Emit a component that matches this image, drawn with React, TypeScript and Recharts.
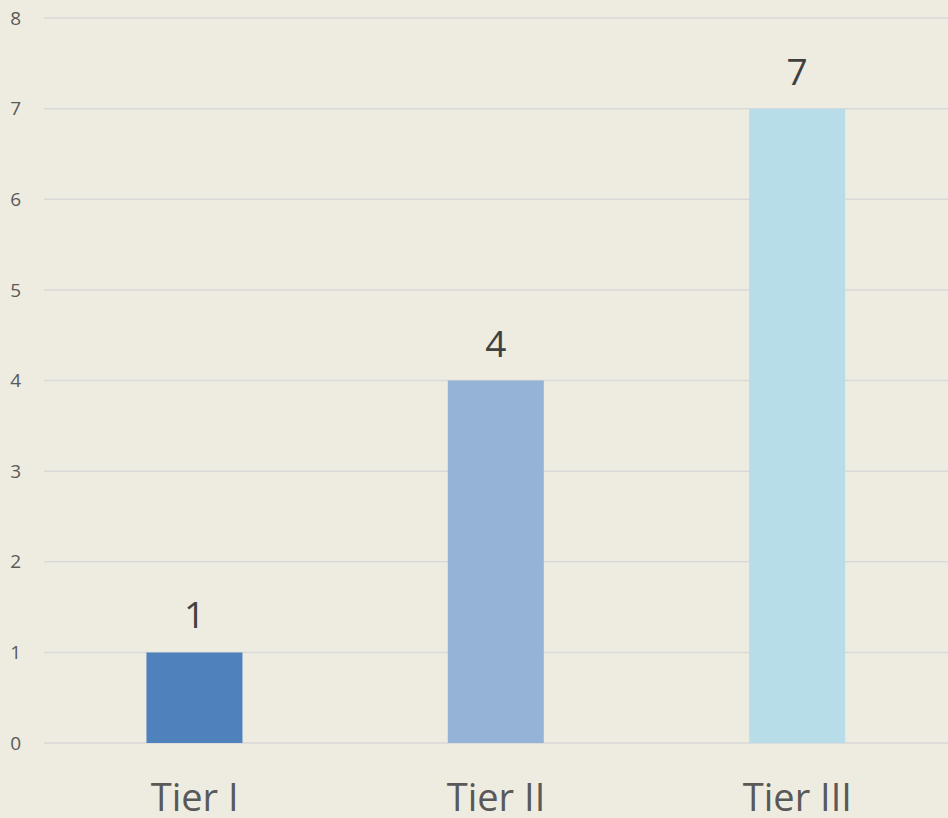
import { BarChart, Bar, XAxis, YAxis, CartesianGrid, Cell, LabelList } from "recharts";

const tiers = ["Tier I", "Tier II", "Tier III"];
const counts = [1, 4, 7];
const tierColors = ["#4F81BD", "#95B3D7", "#B7DEE8"];
const yTicks = [0, 1, 2, 3, 4, 5, 6, 7, 8];

const data = tiers.map((name, i) => ({ name, count: counts[i] }));

const font = "'Open Sans', 'Liberation Sans', sans-serif";

const App = () => {
  return (
    <div
      style={{
        position: "fixed",
        left: 0,
        top: 0,
        width: 948,
        height: 818,
        background: "#EEECE1",
        fontFamily: font,
      }}
    >
      <BarChart
        width={948}
        height={818}
        data={data}
        margin={{ top: 18, right: 0, left: 0, bottom: 0 }}
        barCategoryGap="34%"
      >
        <CartesianGrid vertical={false} stroke="#D9D9D9" strokeWidth={1.5} />
        <XAxis
          dataKey="name"
          axisLine={false}
          tickLine={false}
          tickSize={0}
          tickMargin={41}
          height={75}
          tick={{ fill: "#595959", fontSize: 38, fontFamily: font }}
        />
        <YAxis
          domain={[0, 8]}
          ticks={yTicks}
          axisLine={false}
          tickLine={false}
          tickSize={0}
          tickMargin={23}
          width={44}
          tick={{ fill: "#595959", fontSize: 19, fontFamily: font }}
        />
        <Bar dataKey="count" isAnimationActive={false}>
          {data.map((d, i) => (
            <Cell key={d.name} fill={tierColors[i]} />
          ))}
          <LabelList
            dataKey="count"
            position="top"
            offset={24}
            fill="#404040"
            fontSize={37}
            fontFamily={font}
          />
        </Bar>
      </BarChart>
    </div>
  );
};

export default App;
